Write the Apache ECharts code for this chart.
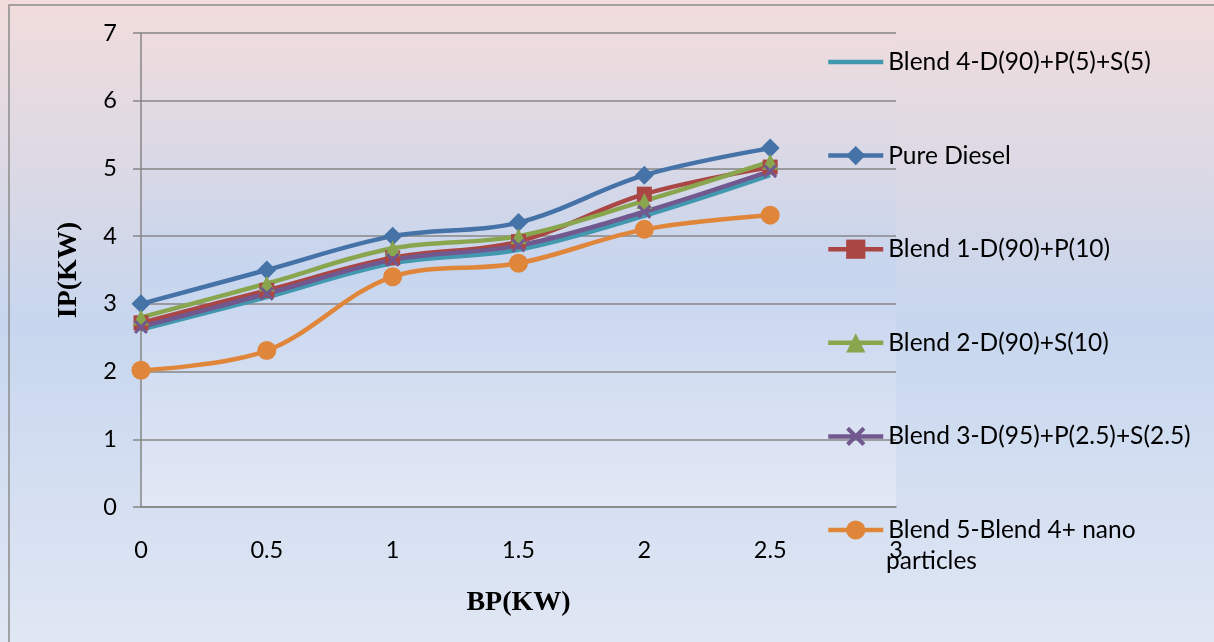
<!DOCTYPE html>
<html>
<head>
<meta charset="utf-8">
<script src="https://cdn.jsdelivr.net/npm/echarts@6/dist/echarts.min.js"></script>
<style>
html,body{margin:0;padding:0;width:1214px;height:642px;overflow:hidden;}
#c{width:1214px;height:642px;}
</style>
</head>
<body>
<div id="c"></div>
<script>
const bp = [0, 0.5, 1, 1.5, 2, 2.5];
const blend4 = [2.62, 3.1, 3.6, 3.8, 4.3, 4.9];
const pureDiesel = [3.0, 3.5, 4.0, 4.2, 4.9, 5.3];
const blend1 = [2.72, 3.2, 3.68, 3.92, 4.62, 5.02];
const blend2 = [2.8, 3.3, 3.82, 4.0, 4.52, 5.1];
const blend3 = [2.66, 3.15, 3.65, 3.86, 4.36, 4.96];
const blend5 = [2.02, 2.31, 3.4, 3.6, 4.1, 4.31];
const names = [
  'Blend 4-D(90)+P(5)+S(5)',
  'Pure Diesel',
  'Blend 1-D(90)+P(10)',
  'Blend 2-D(90)+S(10)',
  'Blend 3-D(95)+P(2.5)+S(2.5)',
  'Blend 5-Blend 4+ nano particles'
];
const yTicks = [0, 1, 2, 3, 4, 5, 6, 7];
const xTicks = [0, 0.5, 1, 1.5, 2, 2.5, 3];

const pts = arr => arr.map((v, i) => [bp[i], v]);
const crossPath = 'path://M0,1.5 L1.5,0 L5,3.5 L8.5,0 L10,1.5 L6.5,5 L10,8.5 L8.5,10 L5,6.5 L1.5,10 L0,8.5 L3.5,5 Z';

function mk(name, data, color, symbol, size) {
  return {
    name: name, type: 'line', data: pts(data), smooth: 0.35,
    symbol: symbol, symbolSize: size, showSymbol: symbol !== 'none',
    lineStyle: { color: color, width: 4.5 },
    itemStyle: { color: color },
    emphasis: { disabled: true }
  };
}

const chart = echarts.init(document.getElementById('c'));
chart.setOption({
  animation: false,
  backgroundColor: {
    type: 'linear', x: 0, y: 0, x2: 0, y2: 1,
    colorStops: [
      { offset: 0, color: '#f2dcdb' },
      { offset: 0.5, color: '#c7d6ee' },
      { offset: 1, color: '#e0e7f4' }
    ]
  },
  grid: {
    left: 141, right: 318, top: 33, bottom: 135, show: true, borderWidth: 0,
    backgroundColor: {
      type: 'linear', x: 0, y: 0, x2: 0, y2: 1,
      colorStops: [
        { offset: 0, color: '#efdcdd' },
        { offset: 0.5, color: '#c6d5ee' },
        { offset: 1, color: '#e2e8f5' }
      ]
    }
  },
  graphic: [
    { type: 'rect', shape: { x: 9, y: 5, width: 1400, height: 800 }, style: { fill: 'none', stroke: '#8c8c8c', lineWidth: 1.5 }, z: 100, silent: true },
    { type: 'text', left: 886, top: 549, style: { text: 'particles', font: '24.5px Lato', fill: '#000' }, z: 100 }
  ],
  legend: {
    orient: 'vertical', left: 826, top: 48, padding: 0,
    itemWidth: 55, itemHeight: 24, itemGap: 65.6,
    data: [
      { name: names[0], itemStyle: { opacity: 0 } },
      names[1], names[2], names[3], names[4], names[5]
    ],
    lineStyle: { width: 4.5 },
    formatter: n => n === names[5] ? 'Blend 5-Blend 4+ nano' : n,
    textStyle: { fontFamily: 'Lato', fontSize: 24.5, color: '#000', lineHeight: 28 }
  },
  xAxis: {
    type: 'value', min: 0, max: 3, interval: 0.5,
    name: 'BP(KW)', nameLocation: 'middle', nameGap: 82,
    nameTextStyle: { fontFamily: 'Liberation Serif', fontWeight: 'bold', fontSize: 28, color: '#000' },
    axisLine: { show: true, lineStyle: { color: '#868686', width: 1.5 } },
    axisTick: { show: false },
    splitLine: { show: false },
    axisLabel: { margin: 31, fontFamily: 'Lato', fontSize: 23.5, color: '#000', formatter: v => String(v) }
  },
  yAxis: {
    type: 'value', min: 0, max: 7, interval: 1,
    name: 'IP(KW)', nameLocation: 'middle', nameGap: 58,
    nameTextStyle: { fontFamily: 'Liberation Serif', fontWeight: 'bold', fontSize: 28, color: '#000' },
    axisLine: { show: true, lineStyle: { color: '#868686', width: 1.5 } },
    axisTick: { show: true, length: 8, lineStyle: { color: '#868686', width: 1.5 } },
    splitLine: { show: true, lineStyle: { color: '#868686', width: 1.5 } },
    axisLabel: { margin: 24, fontFamily: 'Lato', fontSize: 23.5, color: '#000' }
  },
  series: [
    mk(names[0], blend4, '#4198af', 'none', 0),
    mk(names[1], pureDiesel, '#4572a7', 'diamond', 19),
    mk(names[2], blend1, '#aa4643', 'rect', 15),
    mk(names[3], blend2, '#89a54e', 'triangle', 16),
    mk(names[4], blend3, '#71588f', crossPath, 14),
    mk(names[5], blend5, '#e0863a', 'circle', 19)
  ]
});
</script>
</body>
</html>
